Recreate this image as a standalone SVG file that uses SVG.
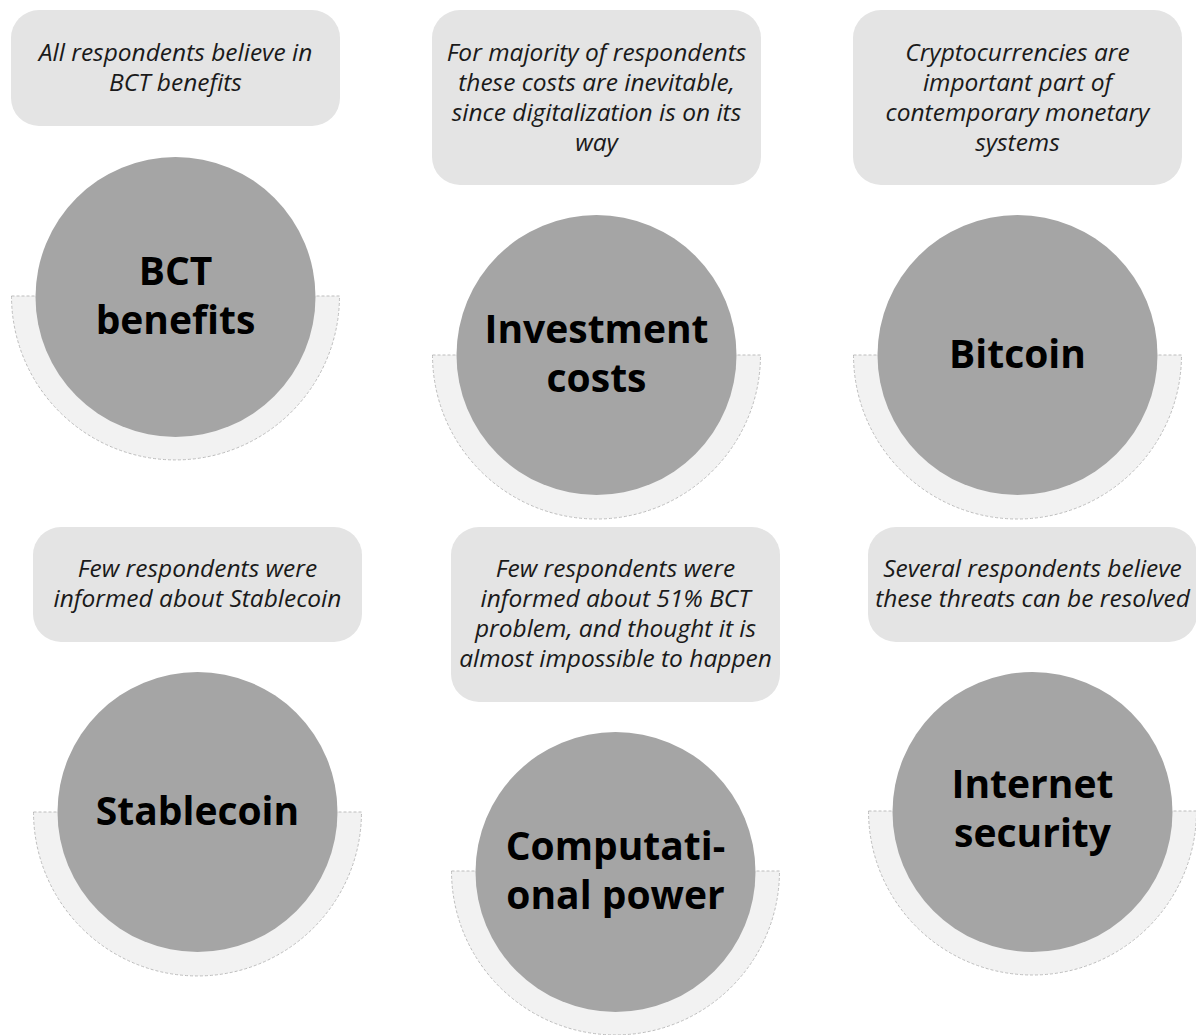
<svg xmlns="http://www.w3.org/2000/svg" width="1196" height="1035" viewBox="0 0 1196 1035">
<style>
.box{fill:#e4e4e4}
.half{fill:#f2f2f2;stroke:#bdbdbd;stroke-width:1;stroke-dasharray:3 2}
.circ{fill:#a5a5a5}
.note{font-family:"Open Sans","Noto Sans",sans-serif;font-style:italic;font-size:24.5px;fill:#1a1a1a;text-anchor:middle}
.lab{font-family:"Open Sans","Noto Sans",sans-serif;font-weight:bold;font-size:39px;fill:#000;text-anchor:middle}
</style>
<rect width="1196" height="1035" fill="#ffffff"/>
<g id="connectors"></g>
<g id="node-bct">
<rect class="box" x="11" y="10" width="329" height="116" rx="28"/>
<text class="note"><tspan x="175.5" y="61">All respondents believe in</tspan><tspan x="175.5" y="91">BCT benefits</tspan></text>
<path class="half" d="M11.5,296 L339.5,296 A164,164 0 0 1 11.5,296 Z"/>
<circle class="circ" cx="175.5" cy="297" r="140"/>
<text class="lab"><tspan x="175.5" y="285">BCT</tspan><tspan x="175.5" y="334">benefits</tspan></text>
</g>
<g id="node-investment">
<rect class="box" x="432" y="10" width="329" height="175" rx="28"/>
<text class="note"><tspan x="596.5" y="61">For majority of respondents</tspan><tspan x="596.5" y="91">these costs are inevitable,</tspan><tspan x="596.5" y="121">since digitalization is on its</tspan><tspan x="596.5" y="151">way</tspan></text>
<path class="half" d="M432.5,355 L760.5,355 A164,164 0 0 1 432.5,355 Z"/>
<circle class="circ" cx="596.5" cy="355" r="140"/>
<text class="lab"><tspan x="596.5" y="343">Investment</tspan><tspan x="596.5" y="392">costs</tspan></text>
</g>
<g id="node-bitcoin">
<rect class="box" x="853" y="10" width="329" height="175" rx="28"/>
<text class="note"><tspan x="1017.5" y="61">Cryptocurrencies are</tspan><tspan x="1017.5" y="91">important part of</tspan><tspan x="1017.5" y="121">contemporary monetary</tspan><tspan x="1017.5" y="151">systems</tspan></text>
<path class="half" d="M853.5,355 L1181.5,355 A164,164 0 0 1 853.5,355 Z"/>
<circle class="circ" cx="1017.5" cy="355" r="140"/>
<text class="lab" x="1017.5" y="368">Bitcoin</text>
</g>
<g id="node-stablecoin">
<rect class="box" x="33" y="527" width="329" height="115" rx="28"/>
<text class="note"><tspan x="197.5" y="577">Few respondents were</tspan><tspan x="197.5" y="607">informed about Stablecoin</tspan></text>
<path class="half" d="M33.5,812 L361.5,812 A164,164 0 0 1 33.5,812 Z"/>
<circle class="circ" cx="197.5" cy="812" r="140"/>
<text class="lab" x="197.5" y="825">Stablecoin</text>
</g>
<g id="node-computational">
<rect class="box" x="451" y="527" width="329" height="175" rx="28"/>
<text class="note"><tspan x="615.5" y="577">Few respondents were</tspan><tspan x="615.5" y="607">informed about 51% BCT</tspan><tspan x="615.5" y="637">problem, and thought it is</tspan><tspan x="615.5" y="667">almost impossible to happen</tspan></text>
<path class="half" d="M451.5,871 L779.5,871 A164,164 0 0 1 451.5,871 Z"/>
<circle class="circ" cx="615.5" cy="872" r="140"/>
<text class="lab"><tspan x="615.5" y="860">Computati-</tspan><tspan x="615.5" y="909">onal power</tspan></text>
</g>
<g id="node-internet">
<rect class="box" x="868" y="527" width="329" height="115" rx="28"/>
<text class="note"><tspan x="1032.5" y="577">Several respondents believe</tspan><tspan x="1032.5" y="607">these threats can be resolved</tspan></text>
<path class="half" d="M868.5,811 L1196.5,811 A164,164 0 0 1 868.5,811 Z"/>
<circle class="circ" cx="1032.5" cy="812" r="140"/>
<text class="lab"><tspan x="1032.5" y="798">Internet</tspan><tspan x="1032.5" y="847">security</tspan></text>
</g>
</svg>
